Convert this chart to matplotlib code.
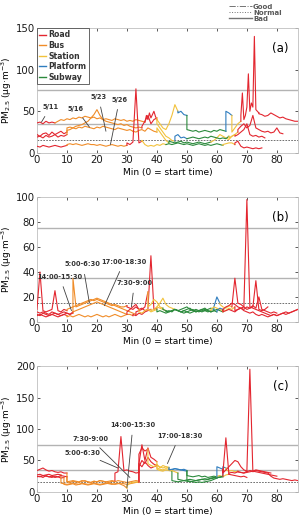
import numpy as np
import matplotlib.pyplot as plt
from matplotlib.lines import Line2D

# colours per travel mode
colors = {'Road': '#e3262f', 'Bus': '#f08c28', 'Station': '#f2c23c',
          'Platform': '#2f7dbf', 'Subway': '#2b8a3c'}
modes = ['Road', 'Bus', 'Station', 'Platform', 'Subway']

# each segment: (mode, start min, end min, PM2.5 values sampled evenly)
# ---- panel (a): dates
a_0511 = [('Road', 0, 6, [36, 37, 35, 38, 36, 37, 36]),
          ('Bus', 6, 36, [36, 38, 40, 39, 41, 40, 42, 41, 43, 42, 44, 43, 42, 43, 41, 42,
                          40, 41, 40, 39, 41, 40, 39, 40, 38, 39, 38, 40, 39, 38, 37]),
          ('Road', 36, 40, [37, 45, 40, 48, 42, 46, 50, 44, 40]),
          ('Station', 40, 47, [40, 35, 30, 28, 35, 45, 58, 50]),
          ('Platform', 47, 50, [48, 50, 46, 45]),
          ('Subway', 50, 63, [28, 27, 26, 27, 25, 26, 27, 26, 25, 27, 26, 28, 27, 26]),
          ('Platform', 63, 65, [50, 48, 45]),
          ('Station', 65, 68, [25, 30, 35, 38]),
          ('Road', 68, 74, [45, 72, 40, 45, 55, 95, 50, 60, 55, 140, 52, 50, 48]),
          ('Road', 74, 87, [47, 46, 44, 45, 48, 46, 44, 42, 43, 41, 40, 39, 38, 38])]
a_0516 = [('Road', 0, 10, [22, 20, 23, 24, 21, 25, 22, 24, 26, 23, 25]),
          ('Bus', 10, 32, [27, 28, 30, 29, 31, 30, 32, 31, 30, 29, 31, 30, 32, 31, 30, 29,
                           28, 30, 29, 28, 27, 28, 26]),
          ('Bus', 32, 40, [26, 25, 27, 28, 26, 30, 28, 26, 25]),
          ('Station', 40, 44, [30, 25, 20, 15, 12]),
          ('Subway', 44, 58, [14, 13, 12, 13, 14, 12, 13, 12, 11, 12, 13, 12, 11, 12, 13]),
          ('Station', 58, 66, [13, 15, 18, 22, 20, 18, 16, 20, 22]),
          ('Road', 66, 76, [20, 22, 25, 28, 35, 22, 20, 21, 19, 20, 18])]
a_0523 = [('Road', 0, 10, [19, 20, 18, 21, 19, 20, 22, 19, 21, 20, 22]),
          ('Bus', 10, 35, [30, 31, 30, 32, 33, 34, 36, 38, 42, 46, 52, 45, 40, 38, 37, 36,
                           35, 34, 35, 33, 34, 32, 31, 30, 31, 30]),
          ('Road', 35, 40, [32, 38, 45, 35, 40, 42]),
          ('Station', 40, 46, [35, 30, 25, 20, 18, 15, 14]),
          ('Platform', 46, 50, [20, 22, 18, 19, 17]),
          ('Subway', 50, 64, [17, 18, 19, 18, 17, 18, 19, 18, 20, 19, 18, 17, 18, 17, 20]),
          ('Station', 64, 67, [18, 20, 22, 25]),
          ('Road', 67, 82, [28, 32, 35, 30, 33, 45, 30, 28, 26, 25, 26, 24, 25, 30, 24, 23])]
a_0526 = [('Road', 0, 10, [8, 7, 9, 8, 7, 8, 9, 8, 7, 8, 9]),
          ('Bus', 10, 30, [10, 11, 10, 11, 10, 9, 10, 11, 10, 10, 9, 10, 9, 8, 9, 10, 9, 8, 9, 8, 9]),
          ('Road', 30, 35, [12, 10, 13, 77, 12, 14]),
          ('Station', 35, 43, [15, 10, 8, 9, 8, 10, 9, 11, 10]),
          ('Subway', 43, 62, [10, 11, 10, 11, 12, 11, 10, 11, 10, 9, 10, 11, 10, 9, 10, 9, 10, 11, 10, 9]),
          ('Station', 62, 66, [10, 11, 12, 12, 10]),
          ('Road', 66, 75, [12, 14, 8, 6, 7, 6, 5, 6, 5, 6])]

# ---- panel (b): time slots
b_1400 = [('Road', 0, 10, [10, 40, 9, 8, 9, 10, 25, 9, 8, 10, 9]),
          ('Bus', 10, 30, [10, 11, 12, 13, 14, 15, 16, 17, 18, 17, 18, 17, 16, 15, 14, 13, 14, 13, 12, 12, 13]),
          ('Road', 30, 40, [12, 11, 10, 12, 10, 11, 9, 10, 53, 10, 11]),
          ('Station', 40, 46, [12, 15, 19, 14, 12, 11, 10]),
          ('Subway', 46, 59, [10, 9, 10, 11, 12, 10, 9, 10, 9, 8, 9, 10, 11, 10]),
          ('Platform', 59, 61, [12, 20, 15]),
          ('Station', 61, 65, [14, 12, 11, 13, 12]),
          ('Road', 65, 77, [12, 35, 15, 14, 12, 10, 11, 12, 33, 10, 9, 10, 12])]
b_0500 = [('Road', 0, 12, [8, 7, 8, 7, 6, 8, 7, 6, 7, 8, 7, 6, 7]),
          ('Bus', 12, 32, [8, 9, 10, 11, 12, 13, 14, 15, 16, 15, 14, 13, 12, 11, 10, 9, 8, 7, 6, 6, 5]),
          ('Road', 32, 38, [6, 5, 7, 6, 8, 9, 10]),
          ('Station', 38, 43, [9, 10, 12, 11, 10, 9]),
          ('Subway', 43, 62, [8, 9, 8, 10, 9, 8, 7, 8, 9, 10, 8, 9, 10, 11, 9, 8, 9, 10, 9, 8]),
          ('Station', 62, 66, [10, 9, 11, 10, 12]),
          ('Road', 66, 87, [9, 10, 11, 12, 98, 12, 11, 10, 9, 8, 7, 6, 5, 6, 5, 6, 7, 6, 7, 8, 9, 10])]
b_1700 = [('Road', 0, 12, [6, 5, 7, 6, 5, 6, 7, 6, 5, 6, 7, 6, 8]),
          ('Bus', 12, 33, [35, 12, 13, 14, 15, 16, 17, 18, 19, 18, 17, 16, 15, 14, 13, 12, 11, 10, 9, 8, 7, 6]),
          ('Road', 33, 37, [8, 9, 10, 12, 24]),
          ('Station', 37, 42, [12, 14, 18, 16, 12, 11]),
          ('Subway', 42, 58, [10, 9, 8, 9, 10, 9, 8, 9, 10, 11, 9, 8, 9, 10, 9, 8, 9]),
          ('Station', 58, 62, [10, 12, 11, 10, 9]),
          ('Road', 62, 80, [10, 12, 13, 15, 14, 12, 11, 10, 12, 11, 13, 11, 20, 10, 9, 8, 7, 8, 7])]
b_0730 = [('Road', 0, 10, [5, 6, 5, 4, 5, 6, 5, 4, 5, 6, 5]),
          ('Bus', 10, 30, [4, 5, 4, 5, 6, 5, 4, 5, 4, 5, 6, 5, 4, 5, 4, 5, 6, 5, 4, 5, 6]),
          ('Road', 30, 34, [8, 10, 12, 14, 10]),
          ('Station', 34, 40, [8, 7, 9, 10, 8, 9, 10]),
          ('Subway', 40, 60, [8, 9, 8, 7, 8, 9, 10, 9, 8, 9, 8, 7, 8, 9, 8, 9, 10, 9, 8, 9, 8]),
          ('Platform', 60, 62, [9, 11, 10]),
          ('Road', 62, 87, [8, 9, 10, 9, 8, 10, 11, 9, 8, 7, 8, 6, 5, 6, 5, 4, 5, 6, 5, 6, 7, 8, 7, 8, 9, 10])]

# ---- panel (c): time slots
c_0730 = [('Road', 0, 10, [34, 36, 38, 35, 33, 34, 32, 31, 32, 30, 30]),
          ('Bus', 10, 26, [16, 17, 18, 17, 16, 18, 17, 16, 15, 17, 16, 18, 17, 16, 17, 18, 17]),
          ('Road', 26, 34, [30, 32, 88, 34, 35, 33, 32, 30, 31]),
          ('Road', 34, 40, [45, 75, 50, 70, 55, 52, 48]),
          ('Station', 40, 44, [42, 40, 38, 40, 39]),
          ('Platform', 44, 50, [36, 35, 37, 36, 35, 34, 33]),
          ('Subway', 50, 62, [26, 25, 24, 25, 26, 24, 25, 23, 24, 25, 24, 23, 24]),
          ('Platform', 62, 63, [40, 38]),
          ('Station', 63, 67, [35, 33, 34, 32, 33]),
          ('Road', 67, 87, [32, 31, 30, 33, 195, 32, 34, 33, 32, 31, 30, 25, 22, 21, 20, 21, 20, 19, 18, 19, 18])]
c_0500 = [('Road', 0, 9, [24, 25, 23, 26, 24, 25, 23, 24, 22, 23]),
          ('Bus', 9, 34, [12, 11, 12, 13, 11, 12, 13, 12, 11, 12, 13, 12, 11, 12, 13, 14, 13, 12, 13, 14,
                          13, 12, 13, 14, 15, 16]),
          ('Road', 34, 40, [45, 40, 48, 42, 38, 40, 42]),
          ('Station', 40, 45, [36, 34, 33, 35, 34, 33]),
          ('Subway', 45, 60, [18, 17, 16, 17, 18, 17, 16, 17, 18, 19, 20, 19, 20, 21, 22, 23]),
          ('Station', 60, 64, [25, 26, 24, 27, 28]),
          ('Road', 64, 80, [30, 31, 30, 32, 31, 30, 31, 32, 33, 32, 31, 30, 29, 28, 27, 26, 25])]
c_1400 = [('Road', 0, 8, [27, 28, 26, 27, 28, 26, 27, 28, 27]),
          ('Bus', 8, 30, [14, 13, 12, 13, 14, 13, 12, 14, 13, 12, 13, 14, 13, 12, 13, 14, 13, 12, 13, 14, 12, 10, 6]),
          ('Station', 30, 34, [10, 14, 15, 16, 15]),
          ('Road', 34, 40, [40, 50, 45, 55, 48, 44, 42]),
          ('Station', 40, 47, [38, 36, 35, 37, 36, 34, 32, 30]),
          ('Subway', 47, 60, [20, 19, 18, 19, 20, 19, 18, 19, 20, 21, 20, 22, 23, 22]),
          ('Platform', 60, 62, [40, 38, 36]),
          ('Road', 62, 70, [30, 86, 28, 27, 26, 25, 24, 25, 23])]
c_1700 = [('Road', 0, 10, [25, 24, 26, 25, 24, 23, 25, 24, 26, 25, 24]),
          ('Bus', 10, 34, [16, 15, 17, 16, 15, 17, 18, 16, 15, 17, 16, 18, 17, 16, 15, 17, 16, 18, 17, 16,
                           15, 16, 17, 18, 17]),
          ('Road', 34, 37, [60, 70, 65, 68]),
          ('Station', 37, 44, [45, 42, 40, 44, 38, 42, 40, 38]),
          ('Platform', 44, 50, [35, 36, 37, 36, 35, 36, 34]),
          ('Subway', 50, 62, [18, 17, 16, 15, 16, 15, 16, 17, 18, 20, 22, 24, 25]),
          ('Road', 62, 70, [30, 35, 40, 45, 50, 48, 40, 35, 33]),
          ('Road', 70, 78, [32, 34, 33, 35, 34, 33, 32, 31, 30])]

# annotations: (label, text pos, arrow end)
a_notes = [('5/11', (4.5, 55), (1.5, 37)), ('5/16', (13, 53), (17.5, 31)),
           ('5/23', (20.5, 67), (23, 26)), ('5/26', (27.5, 64), (24.5, 10))]
b_notes = [('14:00-15:30', (7.6, 36), (11.5, 9)), ('5:00-6:30', (15.3, 46), (17.5, 15)),
           ('17:00-18:30', (29, 48), (22.5, 13)), ('7:30-9:00', (32.5, 31), (31.5, 12))]
c_notes = [('5:00-6:30', (15.3, 62), (27, 38)), ('7:30-9:00', (18, 84), (31, 23)),
           ('14:00-15:30', (32, 106), (30, 7)), ('17:00-18:30', (47.5, 89), (43.5, 45))]

panels = [('(a)', [a_0511, a_0516, a_0523, a_0526], a_notes, 150, [0, 50, 100, 150]),
          ('(b)', [b_1400, b_0500, b_1700, b_0730], b_notes, 100, [0, 20, 40, 60, 80, 100]),
          ('(c)', [c_0730, c_0500, c_1400, c_1700], c_notes, 200, [0, 50, 100, 150, 200])]

fig = plt.figure(figsize=(3.03, 5.20), dpi=100)
boxes = [[0.122, 0.706, 0.861, 0.240], [0.122, 0.381, 0.861, 0.240], [0.122, 0.054, 0.861, 0.242]]

for box, (label, trips, notes, ymax, yticks) in zip(boxes, panels):
    ax = fig.add_axes(box)
    for trip in trips:
        prev = None
        for mode, t0, t1, vals in trip:
            t = np.linspace(t0, t1, len(vals))
            v = np.array(vals, dtype=float)
            if prev is not None:
                t = np.r_[prev[0], t]
                v = np.r_[prev[1], v]
            ax.plot(t, v, color=colors[mode], lw=0.8, zorder=3)
            prev = (t[-1], v[-1])
    # air quality thresholds
    ax.axhline(75, color='0.7', lw=1.0, zorder=1)
    ax.axhline(35, color='0.7', lw=1.0, zorder=1)
    ax.axhline(15, color='0.35', lw=0.6, ls=(0, (2, 1.5)), zorder=1)
    for txt, xy_text, xy in notes:
        ax.annotate(txt, xy=xy, xytext=xy_text, fontsize=4.8, fontweight='bold',
                    color='0.2', ha='center', va='center',
                    arrowprops=dict(arrowstyle='-', color='0.25', lw=0.6, shrinkA=3, shrinkB=0),
                    zorder=5)
    ax.set_xlim(0, 87)
    ax.set_ylim(0, ymax)
    ax.set_xticks(range(0, 81, 10))
    ax.set_yticks(yticks)
    ax.tick_params(direction='in', top=True, right=True, labelsize=7.3, length=2, width=0.5,
                   pad=1.5, colors='0.1')
    for s in ax.spines.values():
        s.set_color('0.75')
        s.set_linewidth(0.6)
    ax.set_xlabel('Min (0 = start time)', fontsize=6.5, labelpad=2)
    ax.set_ylabel('PM$_{2.5}$ (μg·m$^{-3}$)', fontsize=6.5, labelpad=1)
    ax.text(0.965, 0.84, label, transform=ax.transAxes, ha='right', va='center', fontsize=8.5)
    if label == '(a)':
        handles = [Line2D([], [], color=colors[m], lw=1.0) for m in modes]
        leg = ax.legend(handles, modes, loc='upper left', handlelength=0.9,
                        handletextpad=0.3, labelspacing=0.2, borderpad=0.25,
                        borderaxespad=0.05, framealpha=1, fancybox=False,
                        prop={'weight': 'bold', 'size': 5.6}, labelcolor='0.2')
        leg.get_frame().set_edgecolor('0.3')
        leg.get_frame().set_linewidth(0.6)

# threshold legend above panel (a)
th = [Line2D([], [], color='0.45', lw=0.7, ls='-.'),
      Line2D([], [], color='0.45', lw=0.7, ls=':'),
      Line2D([], [], color='0.45', lw=1.0, ls='-')]
fig.legend(th, ['Good', 'Normal', 'Bad'], loc='upper right', bbox_to_anchor=(0.95, 1.005),
           frameon=False, handlelength=3.2, handletextpad=0.2, labelspacing=0.0,
           prop={'weight': 'bold', 'size': 5}, labelcolor='0.35')

fig.savefig('out.png', dpi=100)
